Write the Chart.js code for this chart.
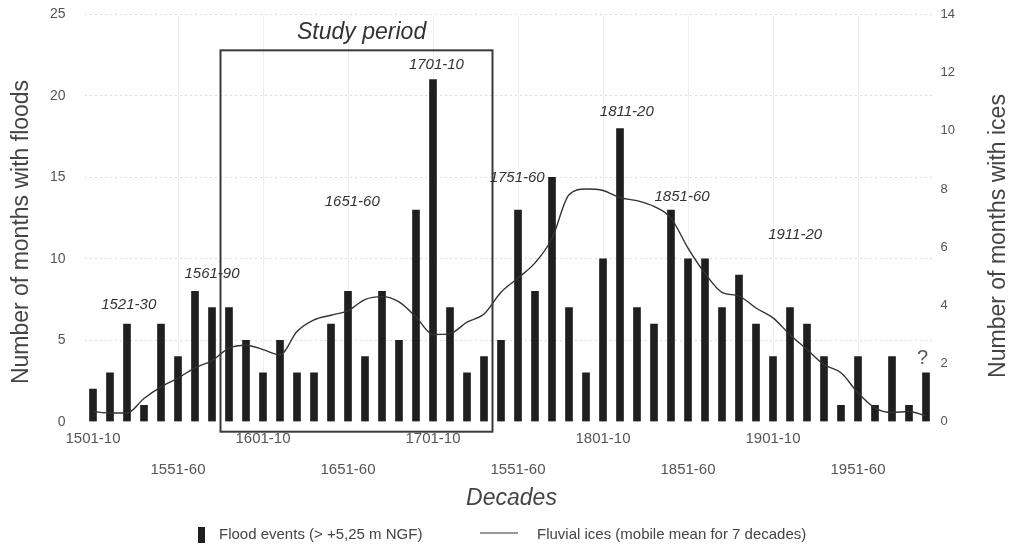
<!DOCTYPE html>
<html>
<head>
<meta charset="utf-8">
<title>Flood events and fluvial ices by decade</title>
<script src="https://cdn.jsdelivr.net/npm/chart.js@4.4.1/dist/chart.umd.min.js"></script>
<style>
    html, body { margin: 0; padding: 0; background: #fff; }
    #wrap { width: 1011px; height: 545px; }
</style>
</head>
<body>
<div id="wrap"><canvas id="chart" width="1011" height="545"></canvas></div>
<script>
'use strict';

// Decades on the x axis
const decades = [
    '1501-10', '1511-20', '1521-30', '1531-40', '1541-50', '1551-60', '1561-70', '1571-80', '1581-90', '1591-00',
    '1601-10', '1611-20', '1621-30', '1631-40', '1641-50', '1651-60', '1661-70', '1671-80', '1681-90', '1691-00',
    '1701-10', '1711-20', '1721-30', '1731-40', '1741-50', '1751-60', '1761-70', '1771-80', '1781-90', '1791-00',
    '1801-10', '1811-20', '1821-30', '1831-40', '1841-50', '1851-60', '1861-70', '1871-80', '1881-90', '1891-00',
    '1901-10', '1911-20', '1921-30', '1931-40', '1941-50', '1951-60', '1961-70', '1971-80', '1981-90', '1991-00'
];

// Number of months with floods (left axis)
const floods = [
    2, 3, 6, 1, 6, 4, 8, 7, 7, 5,
    3, 5, 3, 3, 6, 8, 4, 8, 5, 13,
    21, 7, 3, 4, 5, 13, 8, 15, 7, 3,
    10, 18, 7, 6, 13, 10, 10, 7, 9, 6,
    4, 7, 6, 4, 1, 4, 1, 4, 1, 3
];

// Number of months with ices, mobile mean over 7 decades (right axis)
const ices = [
    0.35, 0.3, 0.3, 0.8, 1.2, 1.5, 1.85, 2.1, 2.53, 2.63,
    2.48, 2.3, 3.1, 3.5, 3.66, 3.82, 4.2, 4.3, 4.12, 3.6,
    3.0, 3.03, 3.42, 3.7, 4.45, 4.94, 5.46, 6.3, 7.8, 8.0,
    7.95, 7.7, 7.6, 7.4, 7.0, 5.97, 5.1, 4.45, 4.32, 3.91,
    3.57, 2.99, 2.48, 1.96, 1.68, 0.99, 0.47, 0.32, 0.35, 0.2
];

// Tick labels as printed: upper row every 100 years, lower row shifted by 50
const upperTicks = ['1501-10', '1601-10', '1701-10', '1801-10', '1901-10'];
const lowerTicks = ['1551-60', '1651-60', '1551-60', '1851-60', '1951-60'];

// Study period box (first and last decade inside)
const studyFrom = '1581-90';
const studyTo = '1731-40';

// Italic notes on the plot: [text, decade index, left-axis value]
const notes = [
    ['1521-30', 2.1, 7.2],
    ['1561-90', 7.0, 9.1],
    ['1651-60', 15.25, 13.5],
    ['1701-10', 20.2, 21.9],
    ['1751-60', 24.95, 15.0],
    ['1811-20', 31.4, 19.0],
    ['1851-60', 34.65, 13.8],
    ['1911-20', 41.3, 11.45]
];

const fontFamily = '"Liberation Sans", Arial, Helvetica, sans-serif';
Chart.defaults.font.family = fontFamily;

let decorPlugin = {
    id: 'decor',
    afterDraw: function(chart) {
        const ctx = chart.ctx;
        const x = chart.scales.x;
        const y = chart.scales.y;
        ctx.save();

        // study period frame
        let left = x.getPixelForValue(decades.indexOf(studyFrom) - 0.5);
        let right = x.getPixelForValue(decades.indexOf(studyTo) + 0.5);
        let top = y.getPixelForValue(22.8);
        let bottom = y.getPixelForValue(0) + 10;
        ctx.strokeStyle = '#3a3a3a';
        ctx.lineWidth = 2;
        ctx.strokeRect(left, top, right - left, bottom - top);

        ctx.fillStyle = '#333';
        ctx.textAlign = 'center';
        ctx.textBaseline = 'middle';
        ctx.font = 'italic 23px ' + fontFamily;
        ctx.fillText('Study period', x.getPixelForValue(15.8), y.getPixelForValue(23.9));

        ctx.font = 'italic 15px ' + fontFamily;
        notes.forEach(function(n) {
            ctx.fillText(n[0], x.getPixelForValue(n[1]), y.getPixelForValue(n[2]));
        });

        ctx.fillStyle = '#555';
        ctx.font = '20px ' + fontFamily;
        ctx.fillText('?', x.getPixelForValue(48.8), y.getPixelForValue(3.9));

        // axis titles
        ctx.fillStyle = '#444';
        ctx.font = 'italic 23px ' + fontFamily;
        ctx.fillText('Decades', (chart.chartArea.left + chart.chartArea.right) / 2 + 2, 499);

        ctx.font = '23px ' + fontFamily;
        ctx.save();
        ctx.translate(22, 232);
        ctx.rotate(-Math.PI / 2);
        ctx.fillText('Number of months with floods', 0, 0);
        ctx.restore();
        ctx.save();
        ctx.translate(999, 236);
        ctx.rotate(-Math.PI / 2);
        ctx.fillText('Number of months with ices', 0, 0);
        ctx.restore();

        // legend
        ctx.font = '15px ' + fontFamily;
        ctx.textAlign = 'left';
        ctx.fillStyle = chart.data.datasets[1].backgroundColor;
        ctx.fillRect(198, 527, 7, 16);
        ctx.fillStyle = '#444';
        ctx.fillText(chart.data.datasets[1].label, 219, 535);
        ctx.strokeStyle = chart.data.datasets[0].borderColor;
        ctx.lineWidth = 1.2;
        ctx.beginPath();
        ctx.moveTo(480, 533);
        ctx.lineTo(518, 533);
        ctx.stroke();
        ctx.fillText(chart.data.datasets[0].label, 537, 535);

        ctx.restore();
    }
};

let config = {
    type: 'bar',
    data: {
        labels: decades,
        datasets: [{
            type: 'line',
            label: 'Fluvial ices (mobile mean for 7 decades)',
            data: ices,
            yAxisID: 'y1',
            borderColor: '#333',
            borderWidth: 1.4,
            pointRadius: 0,
            tension: 0.4,
            cubicInterpolationMode: 'monotone',
            order: 0
        }, {
            type: 'bar',
            label: 'Flood events (> +5,25 m NGF)',
            data: floods,
            yAxisID: 'y',
            backgroundColor: '#1f1f1f',
            barThickness: 7,
            order: 1
        }]
    },
    options: {
        responsive: false,
        animation: false,
        devicePixelRatio: 1,
        layout: {
            padding: { top: 14.5, right: 0, bottom: 0, left: 0 }
        },
        plugins: {
            legend: { display: false },
            tooltip: { enabled: false }
        },
        scales: {
            x: {
                offset: true,
                border: { display: false },
                grid: {
                    offset: false,
                    drawTicks: false,
                    color: function(c) {
                        return (c.index % 5 === 0 && c.index > 0) ? '#efefef' : 'rgba(0,0,0,0)';
                    }
                },
                ticks: {
                    autoSkip: false,
                    maxRotation: 0,
                    minRotation: 0,
                    padding: 2,
                    color: '#555',
                    font: { size: 15, lineHeight: 2.07 },
                    callback: function(value, index) {
                        if (index % 10 === 0) {
                            return [upperTicks[index / 10]];
                        }
                        if (index % 10 === 5) {
                            return ['', lowerTicks[(index - 5) / 10]];
                        }
                        return '';
                    }
                },
                afterFit: function(scale) {
                    scale.height = 123.3;
                }
            },
            y: {
                position: 'left',
                min: 0,
                max: 25,
                border: { display: false, dash: [2, 3] },
                grid: {
                    drawTicks: false,
                    color: function(c) {
                        return c.tick.value === 0 ? 'rgba(0,0,0,0)' : '#dcdcdc';
                    }
                },
                ticks: {
                    stepSize: 5,
                    padding: 19,
                    color: '#555',
                    font: { size: 14 }
                },
                afterFit: function(scale) {
                    scale.width = 84.5;
                    // label padding should not push the plot area down
                    scale.paddingTop = 8;
                    scale.paddingBottom = 8;
                }
            },
            y1: {
                position: 'right',
                min: 0,
                max: 14,
                border: { display: false },
                grid: { drawOnChartArea: false, drawTicks: false },
                ticks: {
                    stepSize: 2,
                    padding: 6,
                    color: '#555',
                    font: { size: 13 }
                },
                afterFit: function(scale) {
                    scale.width = 76.5;
                    scale.paddingTop = 8;
                    scale.paddingBottom = 8;
                }
            }
        }
    },
    plugins: [decorPlugin]
};

let chart = new Chart(document.getElementById('chart'), config);
</script>
</body>
</html>
